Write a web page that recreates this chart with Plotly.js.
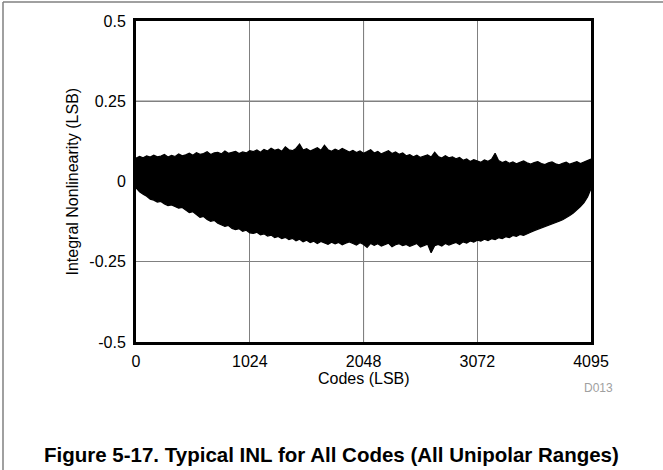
<!DOCTYPE html>
<html>
<head>
<meta charset="utf-8">
<script src="https://cdn.plot.ly/plotly-3.0.1.min.js"></script>
<style>
html,body{margin:0;padding:0;background:#fff;}
#chart{width:663px;height:470px;}
</style>
</head>
<body>
<div id="chart"></div>
<script>
// Codes (LSB), sampled every 32 codes
const codes = [
  0,32,64,96,128,160,192,224,256,288,320,352,384,416,448,480,
  512,544,576,608,640,672,704,736,768,800,832,864,896,928,960,992,
  1024,1056,1088,1120,1152,1184,1216,1248,1280,1312,1344,1376,1408,1440,1472,1504,
  1536,1568,1600,1632,1664,1696,1728,1760,1792,1824,1856,1888,1920,1952,1984,2016,
  2048,2080,2112,2144,2176,2208,2240,2272,2304,2336,2368,2400,2432,2464,2496,2528,
  2560,2592,2624,2656,2688,2720,2752,2784,2816,2848,2880,2912,2944,2976,3008,3040,
  3072,3104,3136,3168,3200,3232,3264,3296,3328,3360,3392,3424,3456,3488,3520,3552,
  3584,3616,3648,3680,3712,3744,3776,3808,3840,3872,3904,3936,3968,4000,4032,4064,
  4095
];
// Upper envelope of INL (LSB)
const inlMax = [
  0.073,0.078,0.074,0.080,0.076,0.082,0.077,0.079,0.084,0.076,0.081,0.078,0.086,0.080,
  0.083,0.088,0.082,0.090,0.085,0.087,0.093,0.084,0.089,0.091,0.086,0.095,0.088,0.090,0.094,0.087,0.092,0.089,0.096,
  0.093,0.098,0.091,0.100,0.095,0.104,0.097,0.101,0.094,0.108,0.099,0.096,0.103,0.117,0.098,0.102,0.095,0.100,0.105,0.097,0.113,0.099,0.094,0.101,0.096,0.103,0.098,0.092,
  0.097,0.090,0.095,0.088,0.093,0.099,0.089,0.094,0.086,0.091,0.096,0.087,0.092,0.085,0.089,
  0.080,0.084,0.077,0.082,0.075,0.079,0.083,0.076,0.091,0.078,0.073,0.080,0.074,0.077,0.071,0.075,
  0.066,0.070,0.062,0.068,0.064,0.060,0.067,0.063,0.069,0.088,0.065,0.059,0.063,0.057,0.061,0.055,0.060,0.064,
  0.058,0.054,0.059,0.062,0.056,0.053,0.058,0.061,0.055,0.052,0.057,0.060,0.054,0.058,0.062,0.056,0.060,0.065,
  0.070
];
// Lower envelope of INL (LSB)
const inlMin = [
  -0.020,-0.032,-0.040,-0.046,-0.055,-0.058,-0.064,-0.062,
  -0.070,-0.075,-0.073,-0.079,-0.083,-0.081,-0.090,-0.097,-0.094,-0.104,-0.112,-0.109,-0.118,-0.124,-0.121,
  -0.130,-0.134,-0.140,-0.137,-0.146,-0.150,-0.147,-0.155,-0.152,-0.160,
  -0.162,-0.158,-0.166,-0.163,-0.170,-0.167,-0.175,-0.171,-0.178,-0.174,-0.181,-0.177,-0.185,-0.180,
  -0.188,-0.183,-0.190,-0.186,-0.193,-0.187,-0.191,-0.196,-0.189,-0.194,-0.190,-0.197,-0.192,-0.188,
  -0.193,-0.198,-0.191,-0.196,-0.205,-0.193,-0.199,-0.194,-0.201,-0.196,-0.192,-0.203,-0.197,-0.194,-0.200,
  -0.196,-0.202,-0.198,-0.193,-0.204,-0.199,-0.195,-0.222,-0.200,-0.196,-0.201,-0.193,-0.198,-0.194,-0.190,-0.196,
  -0.188,-0.192,-0.185,-0.189,-0.183,-0.186,-0.180,-0.184,-0.178,-0.181,-0.175,-0.178,-0.172,-0.175,-0.168,-0.171,
  -0.165,-0.168,-0.162,-0.158,-0.153,-0.149,-0.146,-0.141,-0.138,-0.133,-0.129,-0.124,-0.119,-0.113,-0.106,-0.098,
  -0.089,-0.078,-0.066,-0.048,
  -0.022
];
const xTickVals = [0, 1024, 2048, 3072, 4095];
const xTickText = ['0', '1024', '2048', '3072', '4095'];
const yTickVals = [0.5, 0.25, 0, -0.25, -0.5];
const yTickText = ['0.5', '0.25', '0', '-0.25', '-0.5'];

const FONT = '"Liberation Sans", Arial, sans-serif';

const traces = [
  {x: codes, y: inlMin, type: 'scatter', mode: 'lines',
   line: {color: '#000', width: 1.2}, hoverinfo: 'skip', showlegend: false},
  {x: codes, y: inlMax, type: 'scatter', mode: 'lines', fill: 'tonexty',
   fillcolor: '#000', line: {color: '#000', width: 1.2}, hoverinfo: 'skip', showlegend: false}
];

// plot area in px: left 136, right 591, top 21, bottom 342
const L = 136, R = 591, T = 21, B = 342;
const px = v => (v - L) / (R - L);
const py = v => (B - v) / (B - T);

const layout = {
  width: 663, height: 470,
  margin: {l: L, r: 663 - R, t: T, b: 470 - B, pad: 0},
  paper_bgcolor: '#fff', plot_bgcolor: '#fff',
  font: {family: FONT, size: 16, color: '#000'},
  showlegend: false,
  xaxis: {
    range: [0, 4095], tickvals: xTickVals, ticktext: xTickText,
    showgrid: true, gridcolor: '#808080', gridwidth: 1,
    zeroline: false, showline: true, linecolor: '#000', linewidth: 3, mirror: true,
    ticks: 'outside', ticklen: 3, tickcolor: 'rgba(0,0,0,0)',
    tickfont: {family: FONT, size: 16, color: '#000'}
  },
  yaxis: {
    range: [-0.5, 0.5], tickvals: yTickVals, ticktext: yTickText,
    showgrid: true, gridcolor: '#808080', gridwidth: 1,
    zeroline: false, showline: true, linecolor: '#000', linewidth: 3, mirror: true,
    ticks: 'outside', ticklen: 4, tickcolor: 'rgba(0,0,0,0)',
    tickfont: {family: FONT, size: 16, color: '#000'}
  },
  shapes: [
    {type: 'line', xref: 'x', yref: 'paper', x0: 2048, x1: 2048, y0: 0, y1: 1,
     line: {color: '#000', width: 1}, layer: 'below'},
    {type: 'line', xref: 'paper', yref: 'y', x0: 0, x1: 1, y0: 0.25, y1: 0.25,
     line: {color: '#000', width: 1}, layer: 'below'},
    // outer frame
    {type: 'line', xref: 'paper', yref: 'paper', x0: px(3), x1: px(663), y0: py(2), y1: py(2),
     line: {color: '#808080', width: 1.5}},
    {type: 'line', xref: 'paper', yref: 'paper', x0: px(3), x1: px(3), y0: py(2), y1: py(470),
     line: {color: '#808080', width: 1.5}}
  ],
  annotations: [
    {text: 'Integral Nonlinearity (LSB)', xref: 'paper', yref: 'paper',
     x: px(72), y: 0.5, textangle: -90, showarrow: false,
     xanchor: 'center', yanchor: 'middle', font: {family: FONT, size: 16, color: '#000'}},
    {text: 'Codes (LSB)', xref: 'paper', yref: 'paper',
     x: 0.5, y: py(379), showarrow: false,
     xanchor: 'center', yanchor: 'middle', font: {family: FONT, size: 16, color: '#000'}},
    {text: 'D013', xref: 'paper', yref: 'paper',
     x: px(615), y: py(388), showarrow: false,
     xanchor: 'right', yanchor: 'middle', font: {family: FONT, size: 12, color: '#a0a0a0'}},
    {text: '<b>Figure 5-17. Typical INL for All Codes (All Unipolar Ranges)</b>', xref: 'paper', yref: 'paper',
     x: px(42), y: py(454), showarrow: false,
     xanchor: 'left', yanchor: 'middle', font: {family: FONT, size: 20.5, color: '#000'}}
  ]
};

Plotly.newPlot('chart', traces, layout, {staticPlot: true, displayModeBar: false});
</script>
</body>
</html>
